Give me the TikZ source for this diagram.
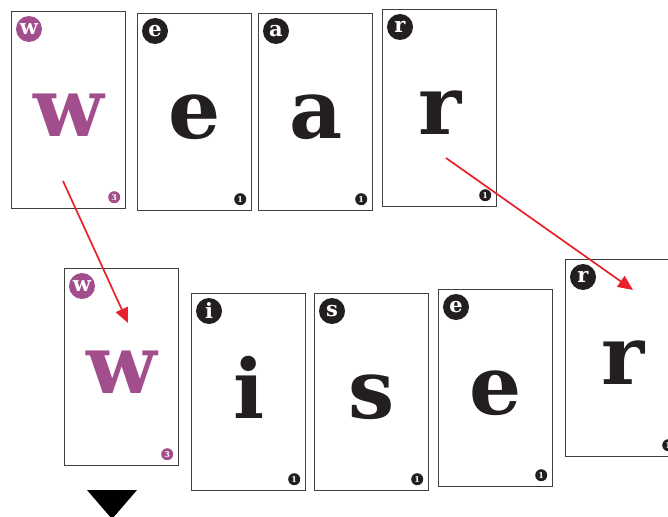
\documentclass[tikz,border=0pt]{standalone}
\usepackage{fontspec}
\newfontfamily\cardfont{DejaVu Serif}
\usetikzlibrary{calc,arrows.meta}
\definecolor{plum}{HTML}{A34E8C}
\definecolor{ink}{HTML}{231F20}
\definecolor{arrowred}{HTML}{E8212B}
\tikzset{
  card/.style={draw=black!75, line width=1.2pt, fill=white, minimum width=114pt, minimum height=197pt, anchor=north west, inner sep=0pt},
  bigletter/.style={font=\cardfont\bfseries\fontsize{82}{82}\selectfont, anchor=base, inner sep=0pt},
  badge/.style={circle, minimum size=26pt, inner sep=0pt, text=white, font=\cardfont\bfseries\fontsize{21}{21}\selectfont},
  numbadge/.style={circle, minimum size=12pt, inner sep=0pt, text=white, font=\cardfont\bfseries\fontsize{8}{8}\selectfont},
  move/.style={draw=arrowred, line width=1.7pt, -{Triangle[length=15pt,width=13pt]}},
}
\newcommand{\lettercard}[6]{%
  \node[card] (#1) at (#2,#3) {};
  \node[bigletter, text=#5] (#1L) at ($(#1.north)+(0,125)$) {#4};
  \node[badge, fill=#5] (#1B) at ($(#1.north west)+(18,18)$) {#4};
  \node[numbadge, fill=#5] (#1N) at ($(#1.south east)+(-12,-12)$) {#6};
}
\begin{document}
\begin{tikzpicture}[x=1pt,y=-1pt]
\useasboundingbox (0,0) rectangle (668,516);
\clip (0,0) rectangle (668,516);
\lettercard{tw}{11}{11}{w}{plum}{3}
\lettercard{te}{137}{13}{e}{ink}{1}
\lettercard{ta}{258}{13}{a}{ink}{1}
\lettercard{tr}{382}{9}{r}{ink}{1}
\lettercard{bw}{64}{268}{w}{plum}{3}
\lettercard{bi}{191}{293}{i}{ink}{1}
\lettercard{bs}{314}{293}{s}{ink}{1}
\lettercard{be}{438}{289}{e}{ink}{1}
\lettercard{br}{565}{259}{r}{ink}{1}
\coordinate (s1) at ($(tw.north west)+(52,170)$);
\coordinate (e1) at ($(bw.north west)+(64,55)$);
\coordinate (s2) at ($(tr.north west)+(64,149)$);
\coordinate (e2) at ($(br.north west)+(68,31)$);
\draw[move] (s1) -- (e1);
\draw[move] (s2) -- (e2);
\coordinate (t1) at (87,490);
\coordinate (t2) at (137,490);
\coordinate (t3) at (112,519);
\fill[black] (t1) -- (t2) -- (t3) -- cycle;
\end{tikzpicture}
\end{document}
